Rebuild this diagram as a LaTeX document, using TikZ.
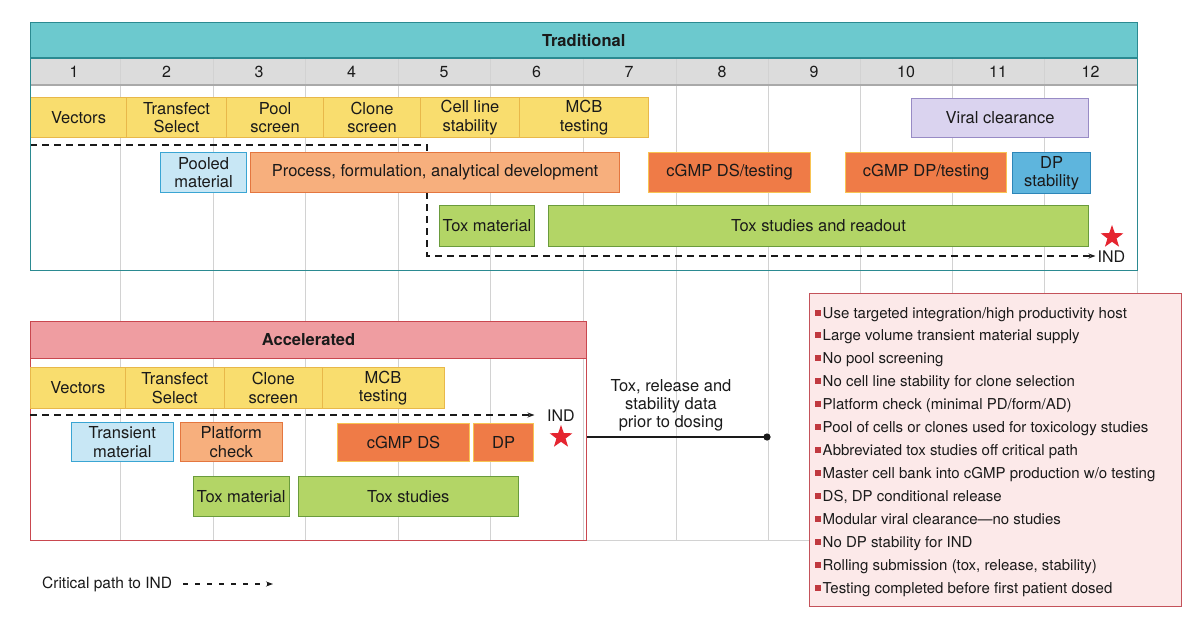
\documentclass[tikz,border=0pt]{standalone}
\usepackage{fontspec}
\setmainfont{TeX Gyre Heros}
\usetikzlibrary{shapes.geometric,arrows.meta,calc}
\definecolor{tealfill}{HTML}{6CC9CE}
\definecolor{tealline}{HTML}{2B8A91}
\definecolor{rowgray}{HTML}{DCDCDC}
\definecolor{rowline}{HTML}{A9A9A9}
\definecolor{gridgray}{HTML}{D2D2D2}
\definecolor{yelfill}{HTML}{F9DD6E}
\definecolor{yelline}{HTML}{E8B84A}
\definecolor{orlfill}{HTML}{F7AF7D}
\definecolor{orlline}{HTML}{E4763F}
\definecolor{ordfill}{HTML}{EF7B47}
\definecolor{ordline}{HTML}{F8C452}
\definecolor{blfill}{HTML}{C8E7F5}
\definecolor{blline}{HTML}{3AA5D3}
\definecolor{bdfill}{HTML}{5EB5DD}
\definecolor{bdline}{HTML}{2D86B8}
\definecolor{vifill}{HTML}{DAD3EF}
\definecolor{viline}{HTML}{988BC5}
\definecolor{grfill}{HTML}{B3D566}
\definecolor{grline}{HTML}{6A9B3C}
\definecolor{pkfill}{HTML}{EF9DA1}
\definecolor{pkline}{HTML}{C9474F}
\definecolor{notefill}{HTML}{FCE9E9}
\definecolor{noteline}{HTML}{C4525A}
\definecolor{bullet}{HTML}{C0393F}
\definecolor{starred}{HTML}{E52530}
\definecolor{ink}{HTML}{1A1A1A}
\tikzset{
  base/.style={inner sep=0pt, align=center, text=ink, line width=1.1pt},
  yel/.style={base, fill=yelfill, draw=yelline},
  orl/.style={base, fill=orlfill, draw=orlline},
  ord/.style={base, fill=ordfill, draw=ordline},
  blu/.style={base, fill=blfill, draw=blline},
  bdk/.style={base, fill=bdfill, draw=bdline},
  vio/.style={base, fill=vifill, draw=viline},
  grn/.style={base, fill=grfill, draw=grline},
  gridline/.style={draw=gridgray, line width=0.9pt},
  critpath/.style={draw=ink, line width=1.2pt, dash pattern=on 7pt off 5pt, -{Stealth[length=7pt,width=5pt]}},
  legpath/.style={draw=ink, line width=1.1pt, dash pattern=on 4.5pt off 7.5pt, -{Stealth[length=7pt,width=5pt]}},
  redstar/.style={star, star points=5, star point ratio=2.5, fill=starred, minimum size=24pt, inner sep=0pt},
  noteitem/.style={anchor=base west, inner sep=0pt, text=ink, font=\fontsize{15}{18}\selectfont},
}
\newcommand{\tbox}[7]{\node[#1, anchor=north west, minimum width={#4-#3}, minimum height={#6-#5}] (#2) at (#3,#5) {#7};}
\begin{document}
\begin{tikzpicture}[x=1pt,y=-1pt, font=\fontsize{16.5}{18.5}\selectfont]
\useasboundingbox[fill=white] (0,0) rectangle (1200,626);
% traditional header and number row
\node[fill=tealfill, anchor=north west, minimum width=1107, minimum height=36, inner sep=0pt, font=\fontsize{16.5}{18}\selectfont\bfseries, text=ink] (hdrT) at (30,22) {Traditional};
\fill[rowgray] (30,58) rectangle (1137,85);
% grid
\foreach \x in {120.5,213,305.5,398,490.5,583,676,768,860,952,1044.5}
  \draw[gridline] (\x,58) -- (\x,540);
\draw[gridline] (1137,270) -- (1137,540);
\draw[gridline] (30,540) -- (1137,540);
\draw[draw=rowline, line width=2pt] (30,85) -- (1137,85);
\draw[draw=tealline, line width=1.2pt] (30,58) -- (1137,58);
% numbers
\foreach \c [count=\i] in {74,166.5,259,351.5,444,536.5,629,722,814,906,998,1090.5}
  \node[text=ink, inner sep=0pt, font=\fontsize{16}{18}\selectfont] (num\i) at (\c,72) {\i};
% critical path (traditional), drawn beneath the boxes
\node[anchor=west, inner sep=2pt, text=ink, font=\fontsize{16}{18}\selectfont] (indT) at (1095.5,257) {IND};
\coordinate (cpT1) at (30,145);
\coordinate (cpT2) at (427,145);
\coordinate (cpT3) at (427,256);
\draw[critpath] (cpT1) -- (cpT2) -- (cpT3) -- (cpT3 -| indT.west);
% traditional boxes
\tbox{yel}{tVec}{30}{126}{97}{137}{Vectors}
\tbox{yel}{tTra}{126}{226}{97}{137}{Transfect\\Select}
\tbox{yel}{tPool}{226}{323}{97}{137}{Pool\\screen}
\tbox{yel}{tClo}{323}{420}{97}{137}{Clone\\screen}
\tbox{yel}{tCel}{420}{519}{97}{137}{Cell line\\stability}
\tbox{yel}{tMCB}{519}{648}{97}{137}{MCB\\testing}
\tbox{vio}{tVir}{911}{1088}{98}{137}{Viral clearance}
\tbox{blu}{tPoo}{160}{246}{152}{192}{Pooled\\material}
\tbox{orl}{tPro}{250}{619}{152}{192}{Process, formulation, analytical development}
\tbox{ord}{tDS}{648}{810}{152}{192}{cGMP DS/testing}
\tbox{ord}{tDP}{845}{1006}{152}{192}{cGMP DP/testing}
\tbox{bdk}{tDPs}{1012}{1090}{152}{193}{DP\\stability}
\tbox{grn}{tTxm}{439}{534}{205}{246}{Tox material}
\tbox{grn}{tTxs}{548}{1088}{205}{246}{Tox studies and readout}
\node[redstar] (starT) at (1112,237) {};
\node[draw=tealline, line width=1.3pt, anchor=north west, minimum width=1107, minimum height=248, inner sep=0pt] (tradBox) at (30,22) {};
% accelerated
\node[fill=pkfill, draw=pkline, line width=1.1pt, anchor=north west, minimum width=556, minimum height=37, inner sep=0pt, font=\fontsize{16.5}{18}\selectfont\bfseries, text=ink] (hdrA) at (30,321) {Accelerated};
\node[draw=pkline, line width=1.3pt, anchor=north west, minimum width=556, minimum height=219, inner sep=0pt] (accBox) at (30,321) {};
\tbox{yel}{aVec}{30}{124.5}{367}{408}{Vectors}
\tbox{yel}{aTra}{124.5}{224}{367}{408}{Transfect\\Select}
\tbox{yel}{aClo}{224}{321.5}{367}{408}{Clone\\screen}
\tbox{yel}{aMCB}{321.5}{443.5}{367}{408}{MCB\\testing}
\tbox{blu}{aTrn}{71}{172.5}{422}{461}{Transient\\material}
\tbox{orl}{aPlt}{180}{281.5}{422}{461}{Platform\\check}
\tbox{ord}{aDS}{337}{469}{423}{461}{cGMP DS}
\tbox{ord}{aDP}{473}{533}{423}{461}{DP}
\tbox{grn}{aTxm}{193}{288.5}{476}{516}{Tox material}
\tbox{grn}{aTxs}{298}{517.5}{476}{516}{Tox studies}
\node[anchor=west, inner xsep=12.5pt, inner ysep=0pt, text=ink, font=\fontsize{16}{18}\selectfont] (indA) at (534.5,415.5) {IND};
\coordinate (cpA1) at (30,415);
\draw[critpath] (cpA1) -- (cpA1 -| indA.west);
\node[redstar] (starA) at (561,437) {};
% connector to notes
\coordinate (dotA) at (767,437);
\draw[draw=ink, line width=1.2pt] (dotA -| accBox.east) -- (dotA);
\fill[ink] (dotA) circle (3.6);
\node[text=ink, inner sep=0pt, align=center, font=\fontsize{16.5}{18}\selectfont] (toxNote) at (671,405) {Tox, release and\\stability data\\prior to dosing};
% legend
\node[anchor=west, inner sep=0pt, text=ink, font=\fontsize{15.5}{18}\selectfont] (legend) at (42,584) {Critical path to IND};
\coordinate (legEnd) at (273,584);
\draw[legpath] ($(legend.east)+(11,0)$) -- (legEnd);
% notes box
\node[fill=notefill, draw=noteline, line width=1.1pt, anchor=north west, minimum width=372.5, minimum height=312.5, inner sep=0pt] (notes) at (808.5,293) {};
\foreach \t [count=\i from 0] in {
  Use targeted integration/high productivity host,
  Large volume transient material supply,
  No pool screening,
  No cell line stability for clone selection,
  Platform check (minimal PD/form/AD),
  Pool of cells or clones used for toxicology studies,
  Abbreviated tox studies off critical path,
  Master cell bank into cGMP production w/o testing,
  {DS, DP conditional release},
  Modular viral clearance---no studies,
  No DP stability for IND,
  {Rolling submission (tox, release, stability)},
  Testing completed before first patient dosed}
  \node[noteitem] (note\i) at (815,{318+22.97*\i}) {{\color{bullet}\raisebox{2.5pt}{\rule{5.5pt}{6pt}}}\hspace{2pt}\t};
\end{tikzpicture}
\end{document}
